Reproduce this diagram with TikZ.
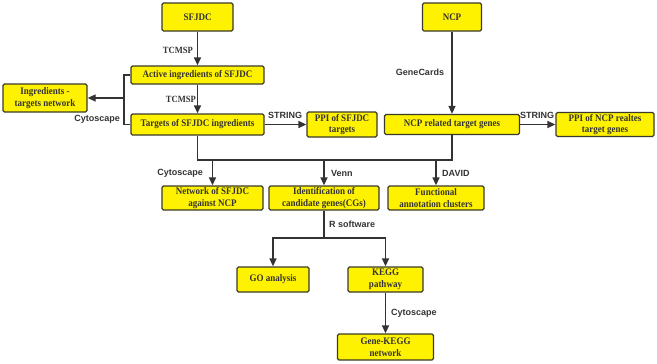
\documentclass[tikz,border=0pt]{standalone}
\usepackage{fontspec}
\setmainfont{Liberation Serif}
\newfontfamily\boxfont{Liberation Serif}[FakeStretch=0.9]
\newfontfamily\labfont{Liberation Sans}
\usetikzlibrary{arrows.meta}
\definecolor{boxfill}{HTML}{FFF200}
\definecolor{boxline}{HTML}{3A3A2A}
\definecolor{arr}{HTML}{333333}
\tikzset{
  box/.style={draw=boxline, line width=1.3pt, fill=boxfill, rounded corners=1.5pt, align=center, inner sep=0pt,
    font=\boxfont\fontsize{10}{11.5}\selectfont\bfseries, text=black!80},
  conn/.style={draw=arr, line width=1.3pt},
  arrw/.style={conn, -{Triangle[length=8pt,width=7pt]}},
  lab/.style={font=\labfont\fontsize{9}{10}\selectfont\bfseries, text=black!80, inner sep=0pt},
  slab/.style={lab, font=\boxfont\fontsize{9.5}{10}\selectfont\bfseries}
}
\begin{document}
\begin{tikzpicture}[x=1pt,y=-1pt]
\useasboundingbox (0,0) rectangle (657,364);
% boxes
\node[box, minimum width=71pt, minimum height=28pt] (sfjdc) at (197.5,17) {SFJDC};
\node[box, minimum width=133pt, minimum height=18pt] (active) at (197.5,75) {Active ingredients of SFJDC};
\node[box, minimum width=84pt, minimum height=28pt] (ingr) at (45,98) {Ingredients -\\targets network};
\node[box, minimum width=133pt, minimum height=21pt] (targets) at (197.5,124.5) {Targets of SFJDC ingredients};
\node[box, minimum width=70pt, minimum height=25pt] (ppi1) at (342,124.5) {PPI of SFJDC\\targets};
\node[box, minimum width=59pt, minimum height=28pt] (ncp) at (452,17) {NCP};
\node[box, minimum width=135pt, minimum height=20pt] (ncprel) at (452,124.5) {NCP related target genes};
\node[box, minimum width=98pt, minimum height=24pt] (ppi2) at (605,124.5) {PPI of NCP realtes\\target genes};
\node[box, minimum width=101pt, minimum height=24pt] (netw) at (212.5,198) {Network of SFJDC\\against NCP};
\node[box, minimum width=110pt, minimum height=24pt] (ident) at (324,198) {Identification of\\candidate genes(CGs)};
\node[box, minimum width=96pt, minimum height=24pt] (func) at (436,198) {Functional\\annotation clusters};
\node[box, minimum width=72pt, minimum height=25pt] (go) at (273,279.5) {GO analysis};
\node[box, minimum width=75pt, minimum height=25pt] (kegg) at (385.5,279.5) {KEGG\\pathway};
\node[box, minimum width=96pt, minimum height=26pt] (gk) at (385.5,347) {Gene-KEGG\\network};
% coordinates
\coordinate (bl) at (124,98);
\coordinate (hj) at (0,160);
\coordinate (rs) at (324,238);
% connectors
\draw[arrw] (sfjdc) -- (active);
\draw[arrw] (active) -- (targets);
\draw[conn] (active.west) -| (bl) |- (targets.west);
\draw[arrw] (bl) -- (ingr.east);
\draw[arrw] (targets.east) -- (ppi1.west);
\draw[arrw] (ncp) -- (ncprel);
\draw[arrw] (ncprel.east) -- (ppi2.west);
\draw[conn] (targets.south) -- (targets.south |- hj) -- (ncprel.south |- hj) -- (ncprel.south);
\draw[arrw] (netw.north |- hj) -- (netw.north);
\draw[arrw] (ident.north |- hj) -- (ident.north);
\draw[arrw] (func.north |- hj) -- (func.north);
\draw[conn] (ident.south) -- (rs);
\draw[arrw] (rs) -| (go.north);
\draw[arrw] (rs) -| (kegg.north);
\draw[arrw] (kegg) -- (gk);
% labels
\node[slab, anchor=east] (l1) at (193,50) {TCMSP};
\node[slab, anchor=east] (l2) at (196,99) {TCMSP};
\node[lab, anchor=east] (l3) at (120,119) {Cytoscape};
\node[lab] (l4) at (285,115) {STRING};
\node[lab] (l5) at (420,72) {GeneCards};
\node[lab] (l6) at (537,115) {STRING};
\node[lab, anchor=east] (l7) at (203,173) {Cytoscape};
\node[lab, anchor=west] (l8) at (331,173) {Venn};
\node[lab, anchor=west] (l9) at (442,173) {DAVID};
\node[lab, anchor=west] (l10) at (329,224) {R software};
\node[lab, anchor=west] (l11) at (391,313) {Cytoscape};
\end{tikzpicture}
\end{document}
